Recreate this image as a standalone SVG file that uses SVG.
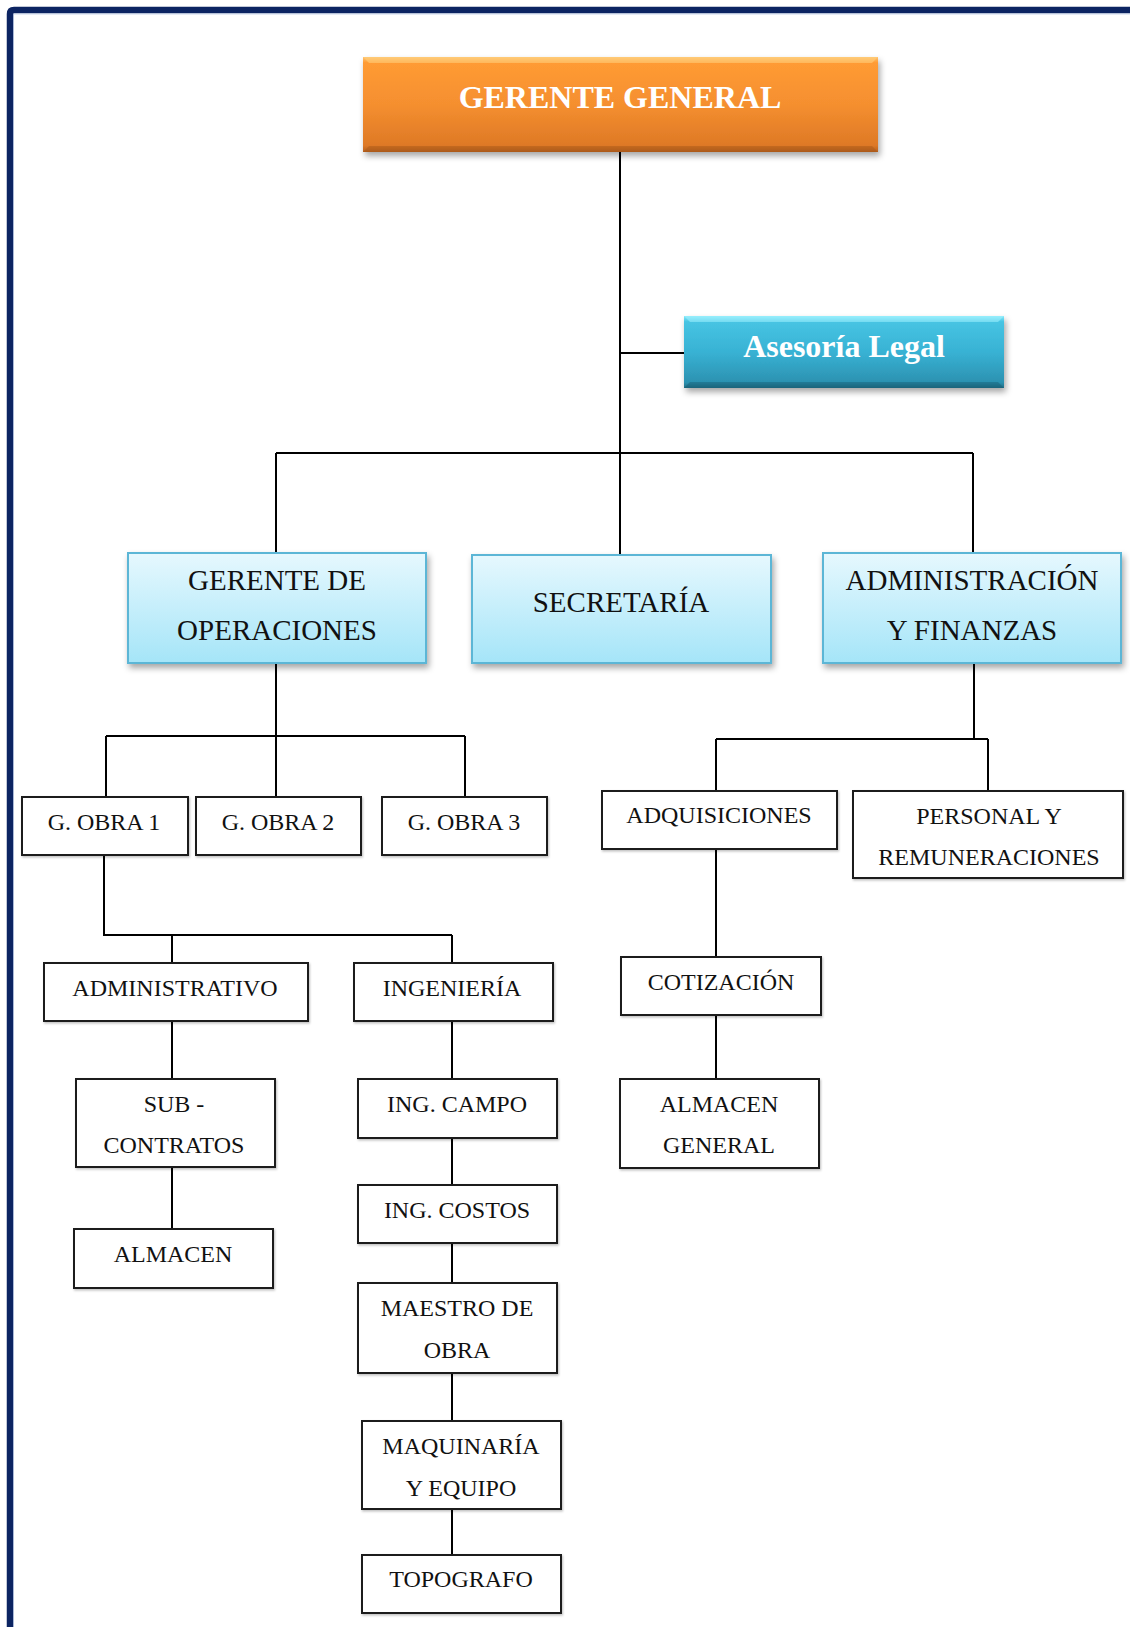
<svg xmlns="http://www.w3.org/2000/svg" width="1130" height="1627" viewBox="0 0 1130 1627">
<defs>
<linearGradient id="gOrange" x1="0" y1="0" x2="0" y2="1">
<stop offset="0" stop-color="#FFC36E"/>
<stop offset="0.06" stop-color="#FF9B34"/>
<stop offset="0.5" stop-color="#F58F2F"/>
<stop offset="0.93" stop-color="#DE7926"/>
<stop offset="1" stop-color="#B5601E"/>
</linearGradient>
<linearGradient id="gCyan" x1="0" y1="0" x2="0" y2="1">
<stop offset="0" stop-color="#86EAFA"/>
<stop offset="0.08" stop-color="#47C4E3"/>
<stop offset="0.5" stop-color="#38B2D4"/>
<stop offset="0.92" stop-color="#2C92B1"/>
<stop offset="1" stop-color="#216F87"/>
</linearGradient>
<linearGradient id="gLight" x1="0" y1="0" x2="0" y2="1">
<stop offset="0" stop-color="#E6F8FE"/>
<stop offset="1" stop-color="#A5E5F8"/>
</linearGradient>
<filter id="shadow" x="-10%" y="-10%" width="125%" height="135%">
<feDropShadow dx="2" dy="4" stdDeviation="3" flood-color="#000" flood-opacity="0.35"/>
</filter>
<filter id="shadowS" x="-10%" y="-10%" width="125%" height="135%">
<feDropShadow dx="1" dy="1.5" stdDeviation="1" flood-color="#000" flood-opacity="0.25"/>
</filter>
</defs>
<style>
.t{font-family:"Liberation Serif","Times New Roman",serif;fill:#111;text-anchor:middle}
.s{font-size:24px}
.m{font-size:29px}
.b{font-size:32px;font-weight:bold;fill:#fff}
.box{fill:#fff;stroke:#1a1a1a;stroke-width:2}
.lb{fill:url(#gLight);stroke:#5BB6D6;stroke-width:2}
.c{stroke:#000;stroke-width:2;fill:none}
</style>
<rect x="0" y="0" width="1130" height="1627" fill="#fff"/>
<path d="M10,1627 V14 Q10,10 14,10 H1130" fill="none" stroke="#0C2462" stroke-width="6.5"/>
<path d="M13.5,1627 V14 H1130" fill="none" stroke="#8FA8D8" stroke-width="0.8" opacity="0.6"/>

<g id="connectors">
<path class="c" d="M620,152 V555"/>
<path class="c" d="M620,353 H684"/>
<path class="c" d="M276,453 H973 M276,453 V553 M973,453 V553"/>
<path class="c" d="M276,663 V797 M106,736 H465 M106,736 V797 M465,736 V797"/>
<path class="c" d="M974,664 V739 M716,739 H988 M716,739 V791 M988,739 V791"/>
<path class="c" d="M716,849 V957 M716,1015 V1079"/>
<path class="c" d="M104,855 V935 H452 M172,935 V963 M452,935 V963"/>
<path class="c" d="M172,1021 V1079 M172,1167 V1229"/>
<path class="c" d="M452,1021 V1079 M452,1138 V1185 M452,1243 V1283 M452,1373 V1421 M452,1509 V1555"/>
</g>

<g id="gerente-general">
<rect x="363" y="57" width="515" height="95" fill="url(#gOrange)" filter="url(#shadow)"/>
<polygon points="363,57 878,57 872,63 369,63" fill="#FFD27F" opacity="0.55"/>
<polygon points="363,152 878,152 872,146 369,146" fill="#9C4F14" opacity="0.35"/>
<text class="t b" x="620" y="108">GERENTE GENERAL</text>
</g>

<g id="asesoria-legal">
<rect x="684" y="316" width="320" height="72" fill="url(#gCyan)" filter="url(#shadow)"/>
<polygon points="684,316 1004,316 998,322 690,322" fill="#A8F3FF" opacity="0.5"/>
<polygon points="684,388 1004,388 998,382 690,382" fill="#124F63" opacity="0.35"/>
<text class="t b" x="844" y="357">Asesoría Legal</text>
</g>

<g id="gerente-operaciones">
<rect class="lb" x="128" y="553" width="298" height="110" filter="url(#shadow)"/>
<text class="t m" x="277" y="590">GERENTE DE</text>
<text class="t m" x="277" y="640">OPERACIONES</text>
</g>

<g id="secretaria">
<rect class="lb" x="472" y="555" width="299" height="108" filter="url(#shadow)"/>
<text class="t m" x="621" y="612">SECRETARÍA</text>
</g>

<g id="administracion-finanzas">
<rect class="lb" x="823" y="553" width="298" height="110" filter="url(#shadow)"/>
<text class="t m" x="972" y="590">ADMINISTRACIÓN</text>
<text class="t m" x="972" y="640">Y FINANZAS</text>
</g>

<g id="g-obra-1">
<rect class="box" x="22" y="797" width="166" height="58" filter="url(#shadowS)"/>
<text class="t s" x="104" y="830">G. OBRA 1</text>
</g>
<g id="g-obra-2">
<rect class="box" x="196" y="797" width="165" height="58" filter="url(#shadowS)"/>
<text class="t s" x="278" y="830">G. OBRA 2</text>
</g>
<g id="g-obra-3">
<rect class="box" x="382" y="797" width="165" height="58" filter="url(#shadowS)"/>
<text class="t s" x="464" y="830">G. OBRA 3</text>
</g>

<g id="adquisiciones">
<rect class="box" x="602" y="791" width="235" height="58" filter="url(#shadowS)"/>
<text class="t s" x="719" y="823">ADQUISICIONES</text>
</g>
<g id="personal-remuneraciones">
<rect class="box" x="853" y="791" width="270" height="87" filter="url(#shadowS)"/>
<text class="t s" x="989" y="824">PERSONAL Y</text>
<text class="t s" x="989" y="865">REMUNERACIONES</text>
</g>
<g id="cotizacion">
<rect class="box" x="621" y="957" width="200" height="58" filter="url(#shadowS)"/>
<text class="t s" x="721" y="990">COTIZACIÓN</text>
</g>
<g id="almacen-general">
<rect class="box" x="620" y="1079" width="199" height="89" filter="url(#shadowS)"/>
<text class="t s" x="719" y="1112">ALMACEN</text>
<text class="t s" x="719" y="1153">GENERAL</text>
</g>

<g id="administrativo">
<rect class="box" x="44" y="963" width="264" height="58" filter="url(#shadowS)"/>
<text class="t s" x="175" y="996">ADMINISTRATIVO</text>
</g>
<g id="ingenieria">
<rect class="box" x="354" y="963" width="199" height="58" filter="url(#shadowS)"/>
<text class="t s" x="452" y="996">INGENIERÍA</text>
</g>
<g id="sub-contratos">
<rect class="box" x="76" y="1079" width="199" height="88" filter="url(#shadowS)"/>
<text class="t s" x="174" y="1112">SUB -</text>
<text class="t s" x="174" y="1153">CONTRATOS</text>
</g>
<g id="almacen">
<rect class="box" x="74" y="1229" width="199" height="59" filter="url(#shadowS)"/>
<text class="t s" x="173" y="1262">ALMACEN</text>
</g>
<g id="ing-campo">
<rect class="box" x="358" y="1079" width="199" height="59" filter="url(#shadowS)"/>
<text class="t s" x="457" y="1112">ING. CAMPO</text>
</g>
<g id="ing-costos">
<rect class="box" x="358" y="1185" width="199" height="58" filter="url(#shadowS)"/>
<text class="t s" x="457" y="1218">ING. COSTOS</text>
</g>
<g id="maestro-obra">
<rect class="box" x="358" y="1283" width="199" height="90" filter="url(#shadowS)"/>
<text class="t s" x="457" y="1316">MAESTRO DE</text>
<text class="t s" x="457" y="1358">OBRA</text>
</g>
<g id="maquinaria-equipo">
<rect class="box" x="362" y="1421" width="199" height="88" filter="url(#shadowS)"/>
<text class="t s" x="461" y="1454">MAQUINARÍA</text>
<text class="t s" x="461" y="1496">Y EQUIPO</text>
</g>
<g id="topografo">
<rect class="box" x="362" y="1555" width="199" height="58" filter="url(#shadowS)"/>
<text class="t s" x="461" y="1587">TOPOGRAFO</text>
</g>
</svg>
